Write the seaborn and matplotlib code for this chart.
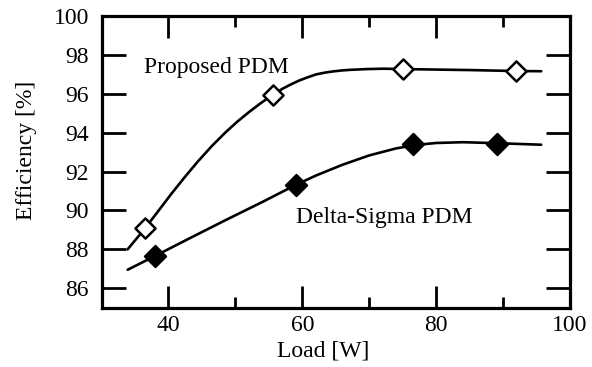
import matplotlib
matplotlib.use("Agg")
import matplotlib.pyplot as plt
from matplotlib.ticker import MultipleLocator
import seaborn as sns

# measured points
prop_x = [36.5, 55.6, 75.1, 91.9]
prop_y = [89.08, 95.95, 97.27, 97.17]
ds_x = [38.0, 59.0, 76.6, 89.1]
ds_y = [87.66, 91.31, 93.41, 93.42]

# fitted curves
prop_fit_x = [33.9, 36.5, 38.5, 40.4, 42.4, 44.4, 46.5, 48.6, 50.3, 52.0, 53.8, 55.5,
              57.1, 58.4, 59.6, 60.9, 62.1, 63.4, 64.6, 65.9, 67.1, 69.6, 72.1, 75.1,
              85.0, 91.9, 95.7]
prop_fit_y = [88.00, 89.08, 89.98, 90.84, 91.70, 92.52, 93.32, 94.04, 94.57, 95.05, 95.52, 95.93,
              96.27, 96.50, 96.69, 96.86, 97.00, 97.09, 97.15, 97.20, 97.23, 97.27, 97.29, 97.27,
              97.22, 97.17, 97.16]
ds_fit_x = [33.9, 38.0, 43.0, 48.4, 54.0, 59.0, 62.0, 66.0, 70.0, 74.0, 77.0, 80.0, 84.0, 89.1, 95.7]
ds_fit_y = [86.95, 87.66, 88.54, 89.48, 90.43, 91.31, 91.79, 92.35, 92.83, 93.19, 93.37, 93.47, 93.51, 93.46, 93.38]

labels = ["Proposed PDM", "Delta-Sigma PDM"]
x_ticks = [40, 60, 80, 100]
y_ticks = [86, 88, 90, 92, 94, 96, 98, 100]

sns.set_style("ticks")
plt.rcParams["font.family"] = ["Liberation Serif", "DejaVu Serif"]
plt.rcParams["text.color"] = "black"
plt.rcParams["axes.labelcolor"] = "black"

fig = plt.figure(figsize=(5.92, 3.67), dpi=100)
ax = fig.add_axes([0.1715, 0.1616, 0.7913, 0.7948])

sns.lineplot(x=prop_fit_x, y=prop_fit_y, ax=ax, color="black", linewidth=1.9, sort=False)
sns.lineplot(x=ds_fit_x, y=ds_fit_y, ax=ax, color="black", linewidth=1.9, sort=False)
sns.scatterplot(x=prop_x, y=prop_y, ax=ax, marker="D", s=105, facecolor="white",
                edgecolor="black", linewidth=1.8, zorder=5)
sns.scatterplot(x=ds_x, y=ds_y, ax=ax, marker="D", s=118, facecolor="black",
                edgecolor="black", linewidth=1.5, zorder=5)

ax.text(36.4, 97.05, labels[0], fontsize=17, va="baseline", ha="left")
ax.text(59.1, 89.34, labels[1], fontsize=17, va="baseline", ha="left")

ax.set_xlim(30, 100)
ax.set_ylim(85, 100)
ax.set_xticks(x_ticks)
ax.set_yticks(y_ticks)
ax.xaxis.set_minor_locator(MultipleLocator(10))
ax.set_xlabel("Load [W]", fontsize=17)
ax.set_ylabel("Efficiency [%]", fontsize=17)
ax.xaxis.set_label_coords(0.474, -0.112)
ax.yaxis.set_label_coords(-0.137, 0.54)

for s in ax.spines.values():
    s.set_visible(True)
    s.set_linewidth(2.3)
    s.set_color("black")
ax.tick_params(axis="x", which="major", direction="in", length=15.5, width=2,
               top=True, bottom=True, labelsize=17, pad=5, colors="black")
ax.tick_params(axis="x", which="minor", direction="in", length=8, width=2,
               top=True, bottom=True, colors="black")
ax.tick_params(axis="y", which="major", direction="in", length=17, width=2,
               left=True, right=True, labelsize=17, pad=9, colors="black")

fig.savefig("out.png", dpi=100)
